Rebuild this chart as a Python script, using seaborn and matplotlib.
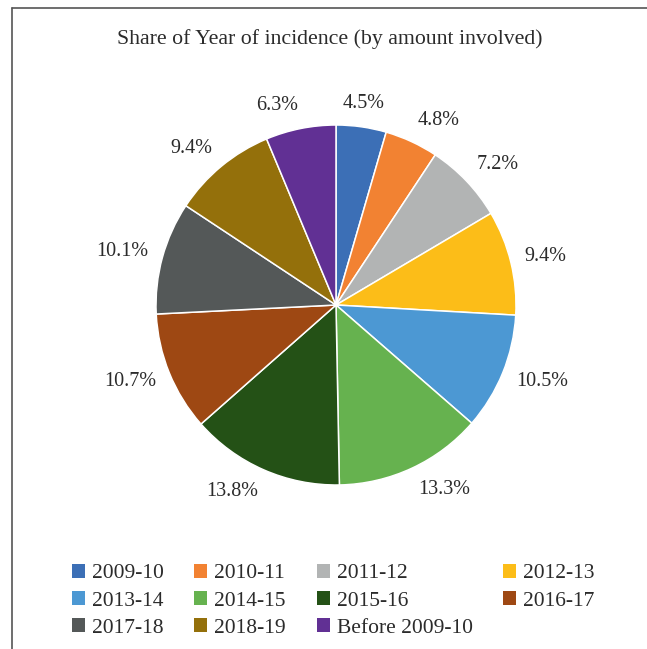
import matplotlib
matplotlib.use("Agg")
import numpy as np
import matplotlib.pyplot as plt
from matplotlib.lines import Line2D
from matplotlib.patches import Patch
import seaborn as sns

years = ["2009-10", "2010-11", "2011-12", "2012-13", "2013-14", "2014-15",
         "2015-16", "2016-17", "2017-18", "2018-19", "Before 2009-10"]
shares = [4.5, 4.8, 7.2, 9.4, 10.5, 13.3, 13.8, 10.7, 10.1, 9.4, 6.3]
colors = ["#3C6FB6", "#F28232", "#B2B4B4", "#FCBD18", "#4C98D3", "#66B24F",
          "#245116", "#9E4813", "#545858", "#94700B", "#613094"]

sns.set_theme(style="white")
plt.rcParams["font.family"] = ["Liberation Serif", "DejaVu Serif"]

W, H = 647, 649
TEXT = "#2b2b2b"
fig = plt.figure(figsize=(W / 100, H / 100), dpi=100)
fig.patch.set_facecolor("white")

# pie centred at (336, 305) px with a 180 px radius
cx, cy, r = 336, 305, 180
ax = fig.add_axes([(cx - r) / W, (H - cy - r) / H, 2 * r / W, 2 * r / H])
wedges, texts = ax.pie(
    shares,
    colors=colors,
    labels=[f"{v:.1f}%" for v in shares],
    startangle=90,
    counterclock=False,
    labeldistance=1.078,
    wedgeprops=dict(edgecolor="white", linewidth=1.1),
    textprops=dict(fontsize=14.5, color=TEXT),
)
ax.set_xlim(-1, 1)
ax.set_ylim(-1, 1)
ax.set_axis_off()

# lift labels above / below the pie by half their height;
# labels close to the vertical axis are centred on their ray
fig.canvas.draw()
renderer = fig.canvas.get_renderer()
for w, t in zip(wedges, texts):
    ang = np.deg2rad((w.theta1 + w.theta2) / 2)
    c, s = np.cos(ang), np.sin(ang)
    h = t.get_window_extent(renderer).height
    x, y = t.get_position()
    t.set_position((x, y + s * h / 2 / r))
    t.set_va("center")
    if abs(c) < 0.17:
        t.set_ha("center")

fig.text(330 / W, 1 - 39 / H, "Share of Year of incidence (by amount involved)",
         ha="center", va="center", fontsize=15.7, color=TEXT)

# legend laid out row by row (matplotlib fills columns first)
order = [0, 4, 8, 1, 5, 9, 2, 6, 10, 3, 7]
handles = [Patch(facecolor=colors[i], edgecolor="none") for i in order]
labels = [years[i] for i in order]
leg = fig.legend(handles, labels, ncol=4, loc="upper left",
                 bbox_to_anchor=(72 / W, 1 - 564 / H),
                 frameon=False, fontsize=15.5, handlelength=0.6, handleheight=0.6,
                 handletextpad=0.33, columnspacing=1.42, labelspacing=0.36,
                 borderpad=0, borderaxespad=0)
for t in leg.get_texts():
    t.set_color(TEXT)

# frame lines along the top and left edges
fig.add_artist(Line2D([12 / W, 12 / W], [0, 1 - 8 / H], transform=fig.transFigure,
                      color="#555555", linewidth=1.2))
fig.add_artist(Line2D([12 / W, 1], [1 - 8 / H, 1 - 8 / H], transform=fig.transFigure,
                      color="#555555", linewidth=1.2))

fig.savefig("out.png", dpi=100, facecolor="white")
